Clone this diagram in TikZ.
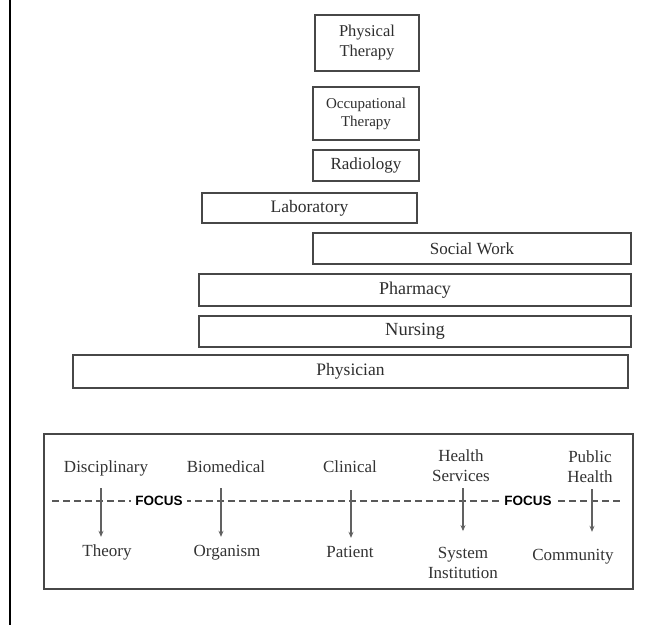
\documentclass[tikz,border=0pt]{standalone}
\usepackage{fontspec}
\setmainfont{Liberation Serif}
\newfontfamily\focusfont{Liberation Sans}
\usetikzlibrary{arrows.meta}
\begin{document}
\begin{tikzpicture}[x=1pt,y=-1pt,
  pbox/.style={draw=black!72, line width=1.4pt, inner sep=0pt, align=center, text=black!82},
  lbl/.style={inner sep=0pt, text=black!80, font=\fontsize{17}{20}\selectfont, text height=12pt, text depth=4pt},
  lbl2/.style={inner sep=0pt, text=black!80, font=\fontsize{17}{20}\selectfont, align=center},
  focuslbl/.style={fill=white, inner sep=4pt, font=\focusfont\bfseries\fontsize{13.5}{15}\selectfont},
  arr/.style={draw=black!62, line width=1.3pt, -{Stealth[length=6pt,width=5pt]}}]
\useasboundingbox (0,0) rectangle (665,625);
\fill[white] (0,0) rectangle (665,625);
\draw[line width=2.6pt, black] (10,0) -- (10,625);

% staircase of professions
\node[pbox, minimum width=104pt, minimum height=56pt, font=\fontsize{16.5}{20}\selectfont] (pt) at (367,43) {Physical\\Therapy};
\node[pbox, minimum width=106pt, minimum height=53pt, font=\fontsize{15}{18}\selectfont] (ot) at (366,113.5) {Occupational\\Therapy};
\node[pbox, minimum width=106pt, minimum height=31pt, font=\fontsize{17}{20}\selectfont] (rad) at (366,165.5) {Radiology};
\node[pbox, minimum width=215pt, minimum height=30pt, font=\fontsize{17.5}{20}\selectfont] (lab) at (309.5,208) {Laboratory};
\node[pbox, minimum width=318pt, minimum height=31pt, font=\fontsize{17}{20}\selectfont] (sw) at (472,248.5) {Social Work};
\node[pbox, minimum width=432pt, minimum height=32pt, font=\fontsize{18}{20}\selectfont] (ph) at (415,290) {Pharmacy};
\node[pbox, minimum width=432pt, minimum height=31pt, font=\fontsize{18.5}{20}\selectfont] (nu) at (415,331.5) {Nursing};
\node[pbox, minimum width=555pt, minimum height=33pt, font=\fontsize{17.5}{20}\selectfont] (phy) at (350.5,371.5) {Physician};

% focus frame
\node[draw=black!72, line width=1.4pt, minimum width=589pt, minimum height=155pt, inner sep=0pt] (frame) at (338.5,511.5) {};
\draw[black!65, line width=2.4pt, dash pattern=on 7pt off 4pt] (52,501) -- (623,501);
\node[focuslbl] (f1) at (159,501) {FOCUS};
\node[focuslbl] (f2) at (528,501) {FOCUS};

\node[lbl] (dis) at (106,468) {Disciplinary};
\node[lbl] (bio) at (226,468) {Biomedical};
\node[lbl] (cli) at (350,468) {Clinical};
\node[lbl2] (hs) at (461,466) {Health\\Services};
\node[lbl2] (pub) at (590,467) {Public\\Health};

\node[lbl] (the) at (107,552) {Theory};
\node[lbl] (org) at (227,552) {Organism};
\node[lbl] (pat) at (350,553) {Patient};
\node[lbl2] (sys) at (463,563) {System\\Institution};
\node[lbl] (com) at (573,556) {Community};

\draw[arr] ([xshift=-5pt,yshift=-12pt]dis.south) -- ([xshift=-6pt,yshift=7pt]the.north);
\draw[arr] ([xshift=-5pt,yshift=-12pt]bio.south) -- ([xshift=-6pt,yshift=7pt]org.north);
\draw[arr] ([xshift=1pt,yshift=-14pt]cli.south) -- ([xshift=1pt,yshift=7pt]pat.north);
\draw[arr] ([xshift=2pt,yshift=-6pt]hs.south) -- ([xshift=0pt,yshift=16pt]sys.north);
\draw[arr] ([xshift=2pt,yshift=-6pt]pub.south) -- ([xshift=19pt,yshift=16pt]com.north);
\end{tikzpicture}
\end{document}
